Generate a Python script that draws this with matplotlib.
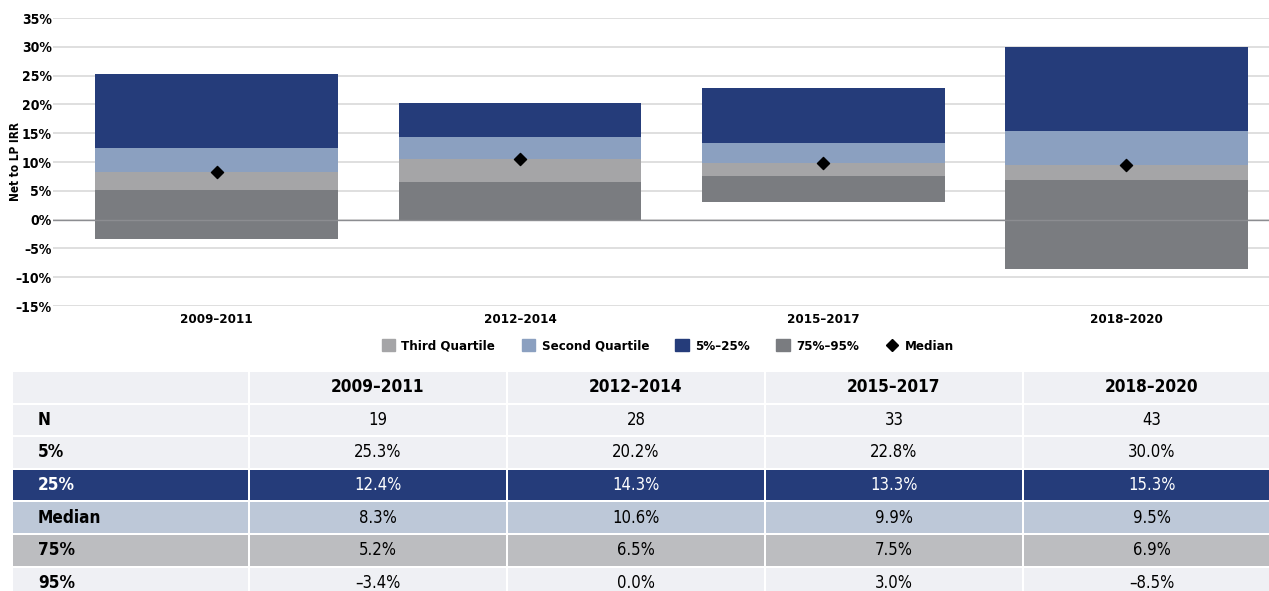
import matplotlib.pyplot as plt
import numpy as np
from matplotlib.patches import Rectangle, Patch
from matplotlib.lines import Line2D

plt.rcParams['font.family'] = ['DejaVu Sans']
plt.rcParams['font.stretch'] = 'condensed'

# Data
periods = ['2009–2011', '2012–2014', '2015–2017', '2018–2020']
n_funds = [19, 28, 33, 43]
p5 = [25.3, 20.2, 22.8, 30.0]
p25 = [12.4, 14.3, 13.3, 15.3]
median = [8.3, 10.6, 9.9, 9.5]
p75 = [5.2, 6.5, 7.5, 6.9]
p95 = [-3.4, 0.0, 3.0, -8.5]
yticks = [-15, -10, -5, 0, 5, 10, 15, 20, 25, 30, 35]

c_navy = '#253c7a'
c_blue = '#8ba0c0'
c_lgray = '#a5a5a7'
c_dgray = '#7a7c80'

W, H = 1269, 591
fig = plt.figure(figsize=(W / 100, H / 100), dpi=100)

# chart axes (pixel layout)
ax = fig.add_axes([53 / W, (H - 306) / H, (W - 53) / W, 288 / H])
x = np.arange(len(periods))
p5a, p25a, meda, p75a, p95a = map(np.array, (p5, p25, median, p75, p95))
bw = 0.8
ax.bar(x, p75a - p95a, bottom=p95a, width=bw, color=c_dgray, zorder=2)
ax.bar(x, meda - p75a, bottom=p75a, width=bw, color=c_lgray, zorder=2)
ax.bar(x, p25a - meda, bottom=meda, width=bw, color=c_blue, zorder=2)
ax.bar(x, p5a - p25a, bottom=p25a, width=bw, color=c_navy, zorder=2)
ax.axhline(0, color='#8c8d91', linewidth=1.0, zorder=2.5)
ax.scatter(x, meda, marker='D', s=38, color='black', zorder=3)

ax.set_ylim(-15, 35)
ax.set_xlim(-0.54, 3.47)
ax.set_yticks(yticks)
ax.set_yticklabels([('–' if v < 0 else '') + f'{abs(v)}%' for v in yticks],
                   fontsize=10, fontweight='bold')
ax.set_xticks(x)
ax.set_xticklabels(periods, fontsize=9.5, fontweight='bold')
ax.tick_params(length=0, pad=5)
ax.tick_params(axis='y', pad=1)
ax.yaxis.grid(True, color='#d9d9d9', linewidth=1.2, zorder=0)
ax.set_axisbelow(True)
for s in ax.spines.values():
    s.set_visible(False)
fig.text(16 / W, 1 - 162 / H, 'Net to LP IRR', rotation=90, fontsize=8.5,
         fontweight='bold', ha='center', va='center')

handles = [Patch(color=c_lgray, label='Third Quartile'),
           Patch(color=c_blue, label='Second Quartile'),
           Patch(color=c_navy, label='5%–25%'),
           Patch(color=c_dgray, label='75%–95%'),
           Line2D([], [], marker='D', color='black', linestyle='none',
                  markersize=6, label='Median')]
fig.legend(handles=handles, loc='center', bbox_to_anchor=(668 / W, 1 - 346 / H),
           ncol=5, frameon=False, prop={'weight': 'bold', 'size': 9.5},
           handlelength=1.0, handleheight=1.0, handletextpad=0.5, columnspacing=2.0)

# table axes in pixel coordinates
tax = fig.add_axes([0, 0, 1, (H - 370) / H])
tax.set_xlim(0, W)
tax.set_ylim(H, 370)
tax.axis('off')

col_edges = [13, 250, 508, 766, 1024, 1282]
row_top = 372
row_h = 32.6
gap = 2

rows = [('', None, '#eff0f4', 'black'),
        ('N', [str(v) for v in n_funds], '#eff0f4', 'black'),
        ('5%', [f'{v:.1f}%' for v in p5], '#eff0f4', 'black'),
        ('25%', [f'{v:.1f}%' for v in p25], c_navy, 'white'),
        ('Median', [f'{v:.1f}%' for v in median], '#bdc8d8', 'black'),
        ('75%', [f'{v:.1f}%' for v in p75], '#bcbdc0', 'black'),
        ('95%', [('–' if v < 0 else '') + f'{abs(v):.1f}%' for v in p95], '#eff0f4', 'black')]

for i, (label, vals, bg, fg) in enumerate(rows):
    y0 = row_top + i * row_h
    yc = y0 + (row_h - gap) / 2
    for j in range(5):
        x0, x1 = col_edges[j], col_edges[j + 1] - gap
        tax.add_patch(Rectangle((x0, y0), x1 - x0, row_h - gap, color=bg, lw=0))
    if i == 0:
        for j, p in enumerate(periods):
            xc = (col_edges[j + 1] + col_edges[j + 2] - gap) / 2
            tax.text(xc, yc, p, ha='center', va='center', fontsize=12.3,
                     fontweight='bold', color=fg)
        continue
    tax.text(38, yc, label, ha='left', va='center', fontsize=12.3,
             fontweight='bold', color=fg)
    for j, v in enumerate(vals):
        xc = (col_edges[j + 1] + col_edges[j + 2] - gap) / 2
        tax.text(xc, yc, v, ha='center', va='center', fontsize=12, color=fg)

fig.savefig('out.png', dpi=100)
